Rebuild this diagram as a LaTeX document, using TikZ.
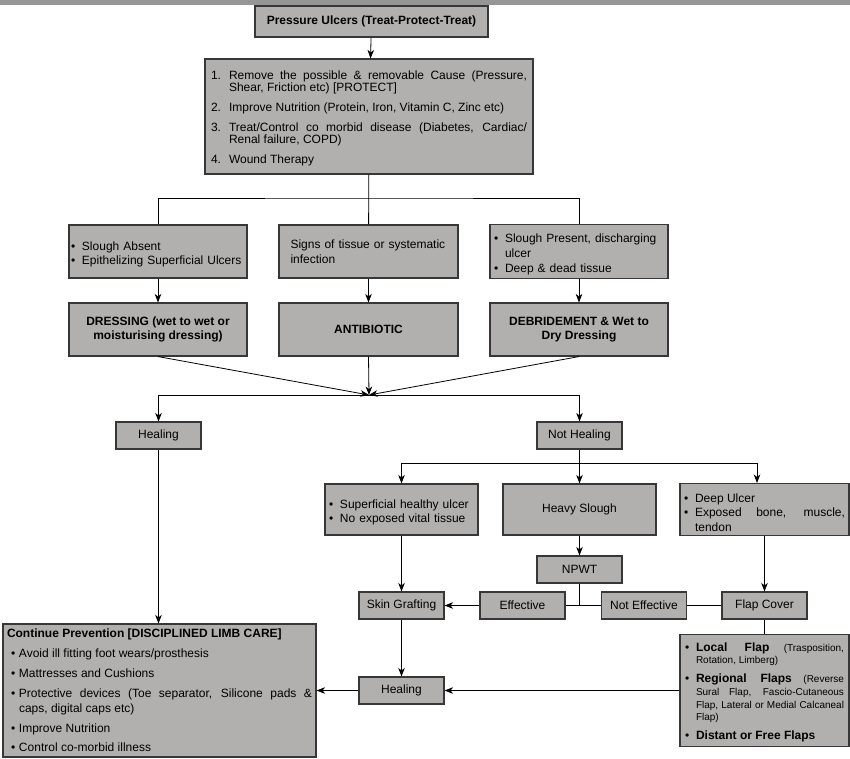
\documentclass[tikz,border=0pt]{standalone}
\usepackage{fontspec}
\setmainfont{Liberation Sans}
\usetikzlibrary{arrows.meta, calc}

\definecolor{boxgray}{RGB}{178,175,175}
\definecolor{framegray}{RGB}{55,55,55}
\definecolor{bandgray}{RGB}{150,150,150}

\hyphenpenalty=10000
\exhyphenpenalty=10000
\emergencystretch=20pt

% bullet and numbered entries with hanging indent
\newlength{\itemgap}
\newcommand{\gap}{\par\vspace{\itemgap}}
\newcommand{\bpoint}[2][11pt]{\par\hangindent=#1\hangafter=1\noindent\makebox[#1][l]{\fontsize{12}{12}\selectfont\textbullet}#2}
\newcommand{\npoint}[2]{\par\hangindent=18pt\hangafter=1\noindent\makebox[18pt][l]{#1}#2}

\tikzset{
  box/.style={rectangle, draw=framegray, fill=boxgray, line width=1.1pt, inner sep=4pt,
    font=\fontsize{12}{14.6}\selectfont},
  boldbox/.style={box, font=\fontsize{12}{14.3}\selectfont\bfseries, align=center},
  link/.style={line width=0.8pt},
  arr/.style={link, -{Stealth[length=8.5pt,width=6.5pt,inset=2.5pt]}},
}

\begin{document}
\begin{tikzpicture}[x=1pt, y=-1pt]
\useasboundingbox (0,0) rectangle (850,758);
\fill[bandgray] (0,0) rectangle (850,5);

% treatment plan
\node[boldbox, minimum width=233, minimum height=31] (title) at (371.5,21.5) {Pressure Ulcers (Treat-Protect-Treat)};
\node[box, minimum width=328, minimum height=115, text width=316, align=justify,
  font=\fontsize{12}{12.4}\selectfont\setlength{\itemgap}{7.6pt}] (plan) at (369,116.5)
  {\npoint{1.}{Remove the possible \& removable Cause (Pressure,\linebreak Shear, Friction etc) [PROTECT]}\gap
   \npoint{2.}{Improve Nutrition (Protein, Iron, Vitamin C, Zinc etc)}\gap
   \npoint{3.}{Treat/Control co morbid disease (Diabetes, Cardiac/\linebreak Renal failure, COPD)}\gap
   \npoint{4.}{Wound Therapy}\par};

% wound state
\node[box, minimum width=178, minimum height=53, inner xsep=2pt, text width=174, align=left] (absent) at (158,251.5)
  {\bpoint{Slough Absent}\bpoint{Epithelizing Superficial Ulcers}\par};
\node[box, minimum width=179, minimum height=53, text width=156, align=left] (infection) at (368.5,251.5)
  {Signs of tissue or systematic\\infection};
\node[box, minimum width=178, minimum height=53, text width=170, align=left] (present) at (579,251.5)
  {\bpoint{Slough Present, discharging ulcer}\bpoint{Deep \& dead tissue}\par};

% first line treatment
\node[boldbox, minimum width=178, minimum height=53] (dressing) at (158,329.5) {DRESSING (wet to wet or\\moisturising dressing)};
\node[boldbox, minimum width=179, minimum height=53] (antibiotic) at (368.5,329.5) {ANTIBIOTIC};
\node[boldbox, minimum width=178, minimum height=53] (debride) at (579,329.5) {DEBRIDEMENT \& Wet to\\Dry Dressing};

\coordinate (split1) at (369,198);
\coordinate (join) at (369,395);

\node[box, minimum width=85, minimum height=27] (heal1) at (158.5,435.5) {Healing};
\node[box, minimum width=85, minimum height=27] (nothealing) at (579.5,435.5) {Not Healing};

% not healing branch
\coordinate (split2) at (579.5,463);
\node[box, minimum width=153, minimum height=51, text width=145, align=left] (superficial) at (401.5,509.5)
  {\bpoint{Superficial healthy ulcer}\bpoint{No exposed vital tissue}\par};
\node[box, minimum width=153, minimum height=51] (slough) at (579.5,509.5) {Heavy Slough};
\node[box, minimum width=169, minimum height=51, text width=161, align=justify] (deep) at (764.5,509.5)
  {\bpoint{Deep Ulcer}\bpoint{Exposed bone, muscle, tendon}\par};

\node[box, minimum width=85, minimum height=27] (npwt) at (579.5,569.5) {NPWT};
\node[box, minimum width=85, minimum height=27] (skin) at (401.5,605.5) {Skin Grafting};
\node[box, minimum width=85, minimum height=27] (effective) at (522.5,605.5) {Effective};
\node[box, minimum width=85, minimum height=27] (noteffective) at (644,605.5) {Not Effective};
\node[box, minimum width=85, minimum height=27] (flapcover) at (764.5,605.5) {Flap Cover};

\node[box, minimum width=85, minimum height=27] (heal2) at (401.5,690.5) {Healing};

\node[box, minimum width=313, minimum height=133, text width=305, align=justify,
  font=\fontsize{12}{15.2}\selectfont\setlength{\itemgap}{4.6pt}] (prevention) at (159.5,690.5)
  {{\bfseries Continue Prevention [DISCIPLINED LIMB CARE]}\gap\leftskip=4pt
   \bpoint[8pt]{Avoid ill fitting foot wears/prosthesis}\gap
   \bpoint[8pt]{Mattresses and Cushions}\gap
   \bpoint[8pt]{Protective devices (Toe separator, Silicone pads \&\linebreak caps, digital caps etc)}\gap
   \bpoint[8pt]{Improve Nutrition}\gap
   \bpoint[8pt]{Control co-morbid illness}\par};

\node[box, minimum width=169, minimum height=109, text width=159, align=justify,
  font=\fontsize{10}{12.6}\selectfont\setlength{\itemgap}{6.5pt}] (flaps) at (764.5,690.5)
  {\bpoint{{\fontsize{12}{12.6}\selectfont\bfseries Local Flap} (Trasposition,\linebreak Rotation, Limberg)}\gap
   \bpoint{{\fontsize{12}{12.6}\selectfont\bfseries Regional Flaps} (Reverse\linebreak Sural Flap, Fascio-Cutaneous\linebreak Flap, Lateral or Medial Calcaneal\linebreak Flap)}\gap
   \bpoint{{\fontsize{12}{12.6}\selectfont\bfseries Distant or Free Flaps}}\par};

% connectors
\draw[arr] (title) -- (plan);
\draw[link] (plan) -- (infection);
\draw[link] (absent.north) |- (split1) -| (present.north);
\draw[arr] (absent) -- (dressing);
\draw[arr] (infection) -- (antibiotic);
\draw[arr] (present) -- (debride);
\draw[arr] (dressing.south) -- (join);
\draw[arr] (antibiotic.south) -- (join);
\draw[arr] (debride.south) -- (join);
\draw[arr] (join) -| (heal1.north);
\draw[arr] (join) -| (nothealing.north);
\draw[arr] (nothealing) -- (slough);
\draw[arr] (split2) -| (superficial.north);
\draw[arr] (split2) -| ([xshift=-7.5pt]deep.north);
\draw[arr] (slough) -- (npwt);
\draw[link] (npwt.south) -- (npwt.south |- effective.east);
\draw[link] (effective) -- (noteffective);
\draw[link] (noteffective) -- (flapcover);
\draw[arr] (effective) -- (skin);
\draw[arr] (superficial) -- (skin);
\draw[arr] (deep.south -| flapcover.north) -- (flapcover);
\draw[link] (flapcover) -- (flaps);
\draw[arr] (skin) -- (heal2);
\draw[arr] (flaps) -- (heal2);
\draw[arr] (heal2) -- (prevention);
\draw[arr] (heal1.south) -- (heal1.south |- prevention.north);
\end{tikzpicture}
\end{document}
